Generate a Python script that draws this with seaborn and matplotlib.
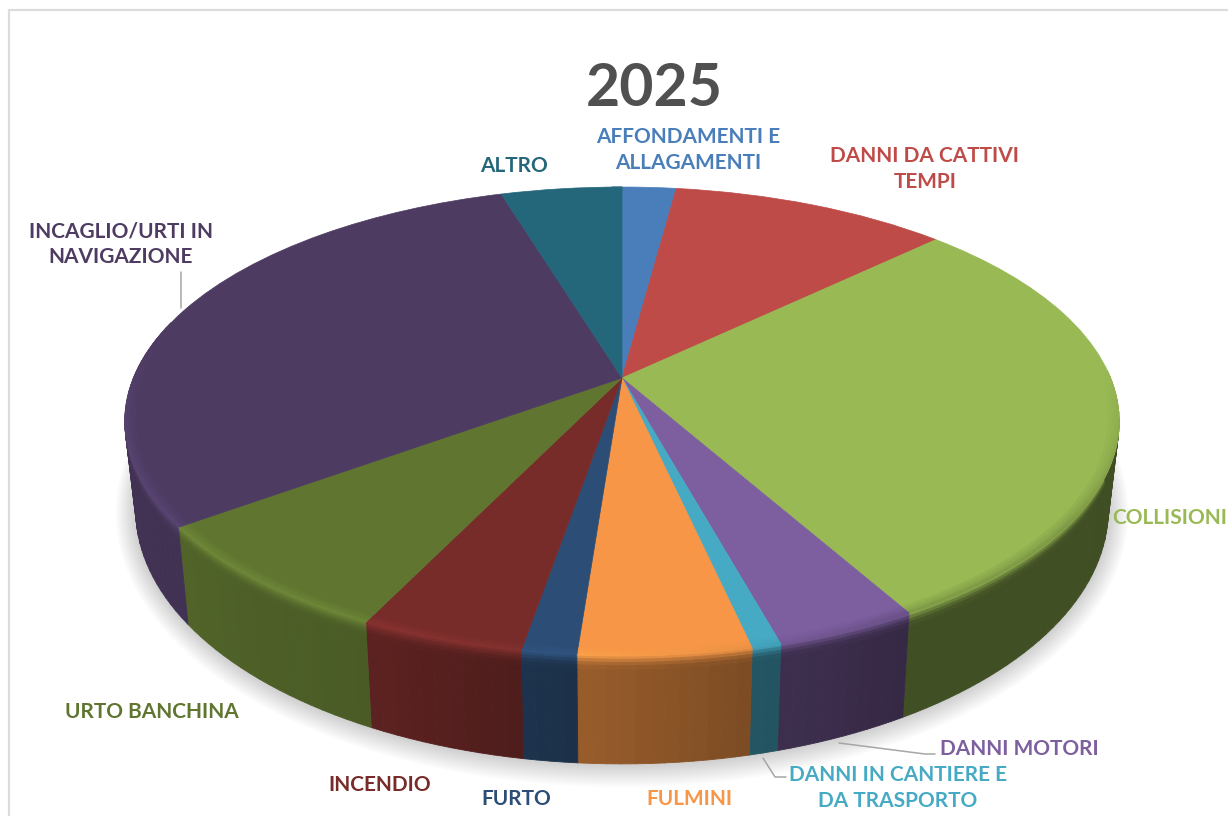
# 2025 claims by cause, tilted 3D-style pie
import numpy as np
import matplotlib
matplotlib.use('Agg')
import matplotlib.pyplot as plt
import seaborn as sns
from matplotlib.collections import PolyCollection
from matplotlib.transforms import Transform

title = '2025'
labels = ['AFFONDAMENTI E\nALLAGAMENTI', 'DANNI DA CATTIVI\nTEMPI', 'COLLISIONI', 'DANNI MOTORI',
          'DANNI IN CANTIERE E\nDA TRASPORTO', 'FULMINI', 'FURTO', 'INCENDIO', 'URTO BANCHINA',
          'INCAGLIO/URTI IN\nNAVIGAZIONE', 'ALTRO']
values = [2.1, 10.8, 28.9, 3.9, 0.8, 4.7, 1.5, 4.5, 7.8, 30.3, 4.7]
colors = ['#4a7ebb', '#be4b48', '#98b954', '#7d5fa0', '#46aac5', '#f79646',
          '#2c4d75', '#772c2a', '#5f7530', '#4d3b62', '#24667a']

sns.set_theme(style='white')
plt.rcParams['font.family'] = ['Lato', 'DejaVu Sans']
palette = sns.color_palette(colors)

# where the pie sits in the picture (pixels)
CX, CY = 622, 378
K = 0.1855
A = 488.6
B = 226.4


class TiltTransform(Transform):
    # turns the flat unit pie into the tilted disc
    input_dims = 2
    output_dims = 2

    def transform_non_affine(self, xy):
        xy = np.asarray(xy, dtype=float)
        w = 1 + K * xy[:, 1]
        return np.column_stack([CX + A * xy[:, 0] / w, CY - B * xy[:, 1] / w])


def drop(pts, amount=1.0):
    # same rim moved down onto the lower face of the disc
    x = CX + (pts[:, 0] - CX) * (1 - 0.022 * amount)
    dy = pts[:, 1] - CY
    y = CY + dy * (1 + 0.084 * amount) + 84.6 * amount
    return np.column_stack([x, y])


def wall_shade(deg):
    # clockwise degrees from the top; light from the left
    return np.interp(deg, [90, 150, 167, 190, 206, 234, 290],
                     [0.42, 0.43, 0.5, 0.66, 0.78, 0.85, 0.85])


fig = plt.figure(figsize=(12.28, 8.16), dpi=100, facecolor='white')
ax = fig.add_axes([0, 0, 1, 1])
wedges, _ = ax.pie(values, colors=palette, startangle=90, counterclock=False,
                   wedgeprops={'linewidth': 0.5, 'zorder': 5})
ax.set_aspect('auto')
ax.set_xlim(0, 1228)
ax.set_ylim(816, 0)
ax.axis('off')

tilt = TiltTransform()
for w, col in zip(wedges, palette):
    w.set_transform(tilt + ax.transData)
    w.set_edgecolor(col)

# soft shadow under the disc
ring = np.radians(np.linspace(0, 360, 361))
rim = tilt.transform(np.column_stack([np.cos(ring), np.sin(ring)]))
base = drop(rim)
for e in range(1, 17):
    grown = np.column_stack([CX + (base[:, 0] - CX) * (1 + e * 0.0026),
                             CY + 95 + (base[:, 1] - CY - 95) * (1 + e * 0.005)])
    ax.fill(grown[:, 0], grown[:, 1], color='black', alpha=0.012, lw=0, zorder=1)

# side wall, built from the wedge angles of the pie
depths = [0, 0.03, 0.06, 0.09, 0.13, 0.2, 1.0]
mix = [0.0, 0.25, 0.55, 0.8, 0.95, 1.0, 1.0]
# soft edge on the top face, just inside the rim
radii = [0.978, 0.985, 0.992, 0.997, 1.0]
polys, faces = [], []
edge_polys, edge_faces = [], []
for w, col in zip(wedges, palette):
    col = np.array(col)
    t1, t2 = w.theta1, w.theta2
    n = max(2, int((t2 - t1) / 1.5) + 2)
    th = np.linspace(t1, t2, n)
    unit = np.column_stack([np.cos(np.radians(th)), np.sin(np.radians(th))])
    pts = tilt.transform(unit)
    cw = (90 - th) % 360
    for i in range(n - 1):
        deg = (cw[i] + cw[i + 1]) / 2
        if not 88 < deg < 285:
            continue
        wall = col * wall_shade(deg)
        glow = min(1.0, max(0.0, (deg - 150) / 60)) * 0.16
        top = np.clip(col * (1 + glow), 0, 1)
        for j in range(len(depths) - 1):
            p = pts[i:i + 2]
            upper = drop(p, depths[j])
            lower = drop(p, depths[j + 1])
            polys.append(np.vstack([upper, lower[::-1]]))
            faces.append(top + (wall - top) * mix[j + 1])
        # right side fades dark towards the rim, left side catches the light
        dark = min(1.0, max(0.0, (190 - deg) / 40)) * 0.3
        fade = np.interp(deg, [88, 125, 250, 285], [0, 1, 1, 0])
        edge_end = col + ((wall - col) * dark + (top - col)) * fade
        for j in range(len(radii) - 1):
            inner = tilt.transform(unit[i:i + 2] * radii[j])
            outer = tilt.transform(unit[i:i + 2] * radii[j + 1])
            edge_polys.append(np.vstack([inner, outer[::-1]]))
            edge_faces.append(np.clip(col + (edge_end - col) * (j + 1) / (len(radii) - 1), 0, 1))
ax.add_collection(PolyCollection(polys, facecolors=faces, edgecolors=faces, linewidths=0.6, zorder=3))
ax.add_collection(PolyCollection(edge_polys, facecolors=edge_faces, edgecolors=edge_faces,
                                 linewidths=0.4, zorder=5.5))

# leader lines
ax.plot([181, 181], [272, 308], color='#a6a6a6', lw=1.1, zorder=6)
ax.plot([839, 925, 935], [743, 754, 754], color='#a6a6a6', lw=1.1, zorder=6)
ax.plot([763, 775, 786], [758, 777, 777], color='#a6a6a6', lw=1.1, zorder=6)

# frame of the chart area, cut by the picture on the right and at the bottom
ax.plot([8.5, 8.5, 1228], [816, 9.5, 9.5], color='#dcdcdc', lw=1.6, zorder=2)

ax.text(654, 89, title, color='#505050', fontsize=42.5, fontweight='bold', ha='center', va='center')

label_xy = [(688, 150), (925, 169), (1170, 518), (1019, 749), (898, 788),
            (689, 799), (516, 799), (380, 785), (152, 712), (121, 244), (514, 166)]
for name, (x, y), col in zip(labels, label_xy, palette):
    ax.text(x, y, name, color=col, fontsize=15, fontweight='bold', ha='center', va='center',
            linespacing=1.35, zorder=7)

fig.savefig('out.png', dpi=100, facecolor='white')
